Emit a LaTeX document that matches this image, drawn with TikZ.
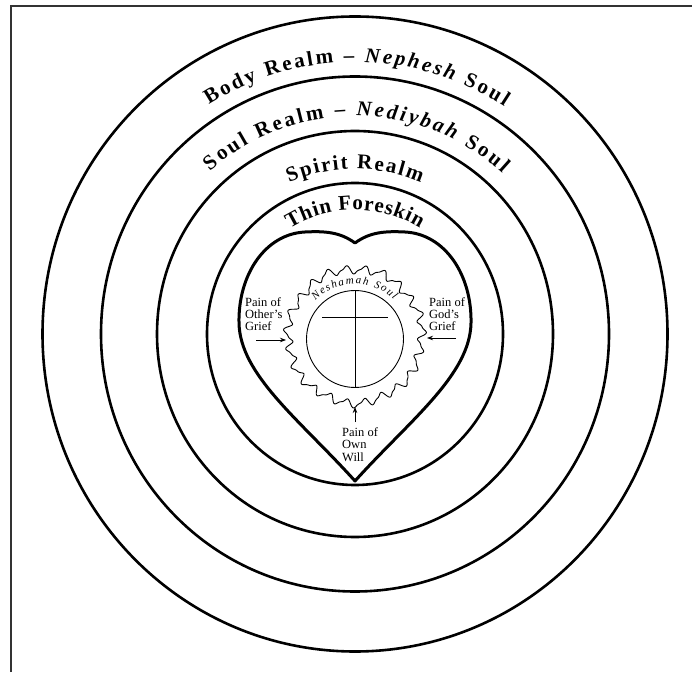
\documentclass[tikz,border=0pt]{standalone}
\usepackage{fontspec}
\setmainfont{Liberation Serif}
\usetikzlibrary{decorations.text,arrows.meta}
\newcommand\ttlfont{\fontsize{21}{24}\selectfont\bfseries}
\newcommand\lblfont{\fontsize{12.5}{12.5}\selectfont}
\newcommand\neshfont{\fontsize{11}{12}\selectfont\itshape}
\begin{document}
\begin{tikzpicture}[x=1pt,y=1pt,
  realm/.style={line width=2.6pt},
  heartline/.style={line width=3pt, line join=round},
  thinline/.style={line width=0.9pt},
  lbl/.style={font=\lblfont, align=left, inner sep=0pt, anchor=north west},
  ptr/.style={line width=0.8pt, -{Stealth[length=6pt,width=4.5pt]}},
  frame/.style={line width=2pt, draw=black!80}
  ]
\useasboundingbox[fill=white] (0,0) rectangle (692,672);
\draw[frame] (11,0) -- (11,666) -- (692,666);

% concentric realms
\coordinate (c) at (355,338);
\draw[realm] (c) ellipse [x radius=312.5, y radius=317.5];
\draw[realm] (c) ellipse [x radius=254, y radius=257.5];
\draw[realm] (c) ellipse [x radius=198, y radius=203];
\draw[realm] (c) ellipse [x radius=148, y radius=151];

% titles along arcs
\path[decorate, decoration={text along path, text align={fit to path},
  text={|\ttlfont|Body Realm – |\ttlfont\itshape|Nephesh |\ttlfont|Soul}}]
  (c) ++(122.5:272) arc[start angle=122.5, end angle=56.7, radius=272];
\path[decorate, decoration={text along path, text align={fit to path},
  text={|\ttlfont|Soul Realm – |\ttlfont\itshape|Nediybah |\ttlfont|Soul}}]
  (c) ++(131.7:218) arc[start angle=131.7, end angle=47.5, radius=218];
\path[decorate, decoration={text along path, text align={fit to path},
  text={|\ttlfont|Spirit Realm}}]
  (c) ++(113.5:165) arc[start angle=113.5, end angle=66.5, radius=165];
\path[decorate, decoration={text along path, text align={fit to path},
  text={|\ttlfont|Thin Foreskin}}]
  (c) ++(121.6:124) arc[start angle=121.6, end angle=58.4, radius=124];

% heart
\draw[heartline] (355,429) .. controls (340,440) and (325,441) .. (305,440)
  .. controls (265,438) and (238,397) .. (239,349)
  .. controls (240,297) and (300,252) .. (355,191)
  .. controls (410,252) and (470,297) .. (471,349)
  .. controls (472,397) and (445,438) .. (405,440)
  .. controls (385,441) and (370,440) .. (355,429) -- cycle;

% Neshamah soul: jagged ring, circle and cross
\draw[thinline, line join=round] plot[variable=\t, domain=0:360, samples=420]
  ({355+(67+3.6*sin(23*\t)+2.6*sin(23*\t)*cos(23*\t)+0.8*sin(7*\t))*cos(\t)},
   {336+(67+3.6*sin(23*\t)+2.6*sin(23*\t)*cos(23*\t)+0.8*sin(7*\t))*sin(\t)}) -- cycle;
\coordinate (s) at (355,333);
\draw[thinline] (s) circle[radius=48.5];
\coordinate (crt) at (355,381.5);
\coordinate (crb) at (355,284.5);
\coordinate (crl) at (322,355);
\coordinate (crr) at (388,355);
\draw[thinline] (crt) -- (crb);
\draw[thinline] (crl) -- (crr);
\path[decorate, decoration={text along path, text align={fit to path},
  text={|\neshfont|Neshamah Soul}}]
  (s) ++(136:55) arc[start angle=136, end angle=45, radius=55];

% pain labels and arrows
\node[lbl] (other) at (245,375) {Pain of\\Other's\\Grief};
\node[lbl] (god) at (429,375) {Pain of\\God's\\Grief};
\node[lbl] (own) at (342,245) {Pain of\\Own\\Will};
\coordinate (oa) at (256,332);
\coordinate (ob) at (286,332);
\coordinate (ga) at (456,334);
\coordinate (gb) at (427,334);
\coordinate (wa) at (355,250);
\coordinate (wb) at (355,265);
\draw[ptr] (oa) -- (ob);
\draw[ptr] (ga) -- (gb);
\draw[ptr] (wa) -- (wb);
\end{tikzpicture}
\end{document}
